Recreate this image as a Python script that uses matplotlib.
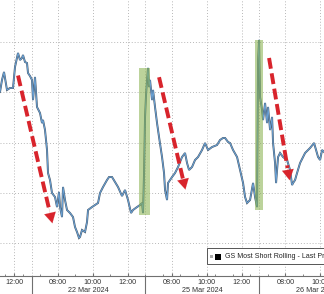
import matplotlib
matplotlib.use("Agg")
import matplotlib.pyplot as plt
from matplotlib.patches import Rectangle
from matplotlib.lines import Line2D
import numpy as np

plt.rcParams['font.family'] = ['Liberation Sans Narrow', 'Liberation Sans', 'DejaVu Sans']

# ---- data (trading-hour axis: 6.5 h per session, 06:30-13:00 local) ----
px = [0, 2, 4, 6, 7, 10, 13, 15, 18, 20, 22, 23, 25, 27, 28, 30, 32, 33, 35, 37, 40, 42, 43, 45, 47, 48, 50,
      52, 55, 57, 59, 60, 62, 63, 65, 67, 70, 73, 75, 77, 79, 80, 82, 85, 87, 88, 92, 95, 98, 100, 103, 107,
      109, 112, 115, 118, 122, 125, 128, 131, 133, 137, 140, 142, 143, 144, 145, 146, 147, 148, 149, 150,
      152, 153, 155, 157, 159, 162, 164, 165, 167, 168, 172, 175, 178, 182, 185, 187, 189, 192, 195, 198,
      202, 205, 208, 212, 217, 220, 223, 225, 228, 230, 233, 237, 240, 243, 245, 247, 250, 253, 255, 257,
      258, 259, 260, 262, 263, 265, 267, 268, 270, 272, 273, 275, 276, 278, 280, 283, 287, 290, 292, 293,
      295, 297, 300, 305, 310, 314, 318, 320, 322, 324]
py = [92, 80, 72, 84, 90, 88, 88, 67, 53, 60, 58, 55, 62, 63, 73, 76, 80, 100, 77, 107, 113, 123, 120, 130,
      150, 173, 180, 193, 197, 207, 192, 207, 217, 187, 200, 210, 213, 217, 227, 232, 238, 237, 230, 232,
      222, 210, 207, 205, 203, 193, 187, 180, 177, 177, 182, 187, 196, 190, 200, 213, 210, 207, 205, 203,
      213, 173, 117, 95, 80, 68, 87, 80, 100, 90, 107, 123, 137, 157, 173, 190, 200, 183, 177, 173, 167,
      157, 153, 163, 170, 167, 160, 157, 150, 143, 150, 147, 145, 140, 138, 138, 142, 143, 150, 157, 170,
      183, 197, 203, 200, 183, 197, 207, 60, 40, 97, 110, 120, 103, 123, 107, 130, 117, 143, 163, 183, 157,
      153, 157, 160, 170, 185, 183, 180, 173, 163, 153, 148, 143, 157, 160, 150, 152]
times = [round((p + 82.25) / 17.5, 3) for p in px]
values = [round(100 + (243 - q) / 50.25, 3) for q in py]

tick_pos = [5.5, 8, 10, 12, 14.5, 16.5, 18.5, 21, 23]
tick_lab = ["12:00", "08:00", "10:00", "12:00", "08:00", "10:00", "12:00", "08:00", "10:00"]
day_bounds = [6.5, 13.0, 19.5]
day_centers = [9.75, 16.25, 22.75]
day_labels = ["22 Mar 2024", "25 Mar 2024", "26 Mar 2024"]

# highlighted regions: (t0, t1, v0, v1)
spans = [(12.643, 13.271, 100.557, 103.483), (19.271, 19.729, 100.657, 104.04)]
# arrows: (t_start, v_start, t_end, v_end)
arrows = [(5.729, 103.333, 7.729, 100.338), (13.786, 103.299, 15.329, 101.01),
          (20.071, 103.682, 21.271, 101.194)]

fig = plt.figure(figsize=(3.24, 2.94), dpi=100)
ax = fig.add_axes([0, 18 / 294, 1, 276 / 294])
ax.set_xlim(4.7, 23.21)
ax.set_ylim(100 - 33 / 50.25, 104 + 42 / 50.25)

for s in ['left', 'right', 'top']:
    ax.spines[s].set_visible(False)
ax.spines['bottom'].set_color('#707070')
ax.spines['bottom'].set_linewidth(0.8)

gridkw = dict(color='#b8b8b8', lw=0.7, ls=(0, (1, 2)), zorder=0)
for v in [100, 101, 102, 103, 104]:
    ax.axhline(v, **gridkw)
for t in tick_pos + day_bounds:
    ax.axvline(t, **gridkw)

ax.plot(times, values, color='#4a5a6a', lw=1.4, zorder=3, solid_joinstyle='miter')
ax.plot(times, values, color='#6aa3d8', lw=0.7, zorder=4)

for t0, t1, v0, v1 in spans:
    ax.add_patch(Rectangle((t0, v0), t1 - t0, v1 - v0, facecolor='#86b04a', alpha=0.55,
                           edgecolor='none', zorder=5))

red = '#d8242c'
for t0, v0, t1, v1 in arrows:
    frac = 0.88
    tm, vm = t0 + (t1 - t0) * frac, v0 + (v1 - v0) * frac
    ax.plot([t0, tm], [v0, vm], color=red, lw=2.8, ls=(0, (2.8, 1.2)), zorder=6,
            solid_capstyle='butt', dash_capstyle='butt')
    ax.annotate('', xy=(t1, v1), xytext=(t0 + (t1 - t0) * 0.84, v0 + (v1 - v0) * 0.84),
                arrowprops=dict(arrowstyle='-|>,head_length=0.75,head_width=0.42',
                                color=red, lw=0.1), zorder=6)

ax.set_yticks([])
ax.set_xticks(tick_pos)
ax.set_xticklabels(tick_lab)
ax.set_xticks(np.arange(5, 23.5, 1.0), minor=True)
ax.tick_params(axis='x', which='major', length=2, direction='in', pad=2.5,
               labelsize=5.2, labelcolor='#333333', color='#707070')
ax.tick_params(axis='x', which='minor', length=1.2, direction='in', color='#707070')

trans = ax.get_xaxis_transform()
for t in day_bounds:
    ax.add_line(Line2D([t, t], [0, -0.07], transform=trans, color='#707070', lw=0.8, clip_on=False))
for t, lab in zip(day_centers, day_labels):
    ax.text(t, -0.052, lab, transform=trans, ha='center', va='center', fontsize=5.2, color='#333333')

# legend box
lx0, ly0 = 207 / 324, 1 - 264 / 294
box = Rectangle((lx0, ly0), 0.5, 16 / 294, transform=fig.transFigure, facecolor='white',
                edgecolor='#555555', lw=0.7, zorder=10)
fig.add_artist(box)
fig.add_artist(Rectangle((210 / 324, 1 - 258 / 294), 3 / 324, 3 / 294, transform=fig.transFigure,
                         facecolor='#aaaaaa', edgecolor='none', zorder=11))
fig.add_artist(Rectangle((215 / 324, 1 - 259.5 / 294), 6 / 324, 6 / 294, transform=fig.transFigure,
                         facecolor='black', edgecolor='none', zorder=11))
fig.text(225 / 324, 1 - 256 / 294, "GS Most Short Rolling - Last Price", fontsize=5.0,
         color='#222222', va='center', ha='left', zorder=12)

fig.savefig('out.png', dpi=100)
